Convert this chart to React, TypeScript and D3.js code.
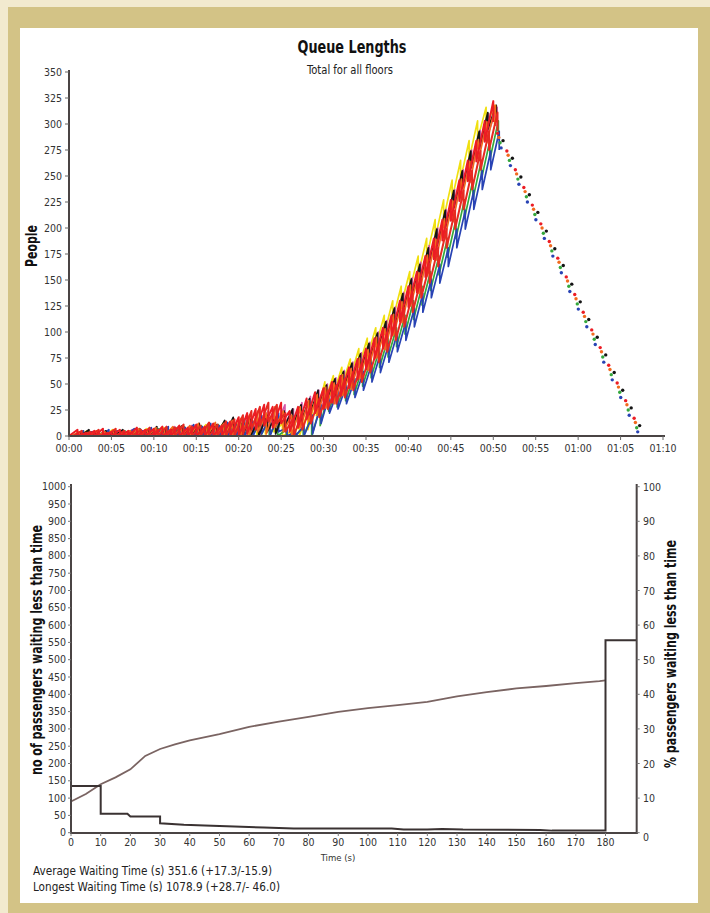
import React from "react";
import * as d3 from "d3";

// ---------- Top chart data (queue length, people, per minute 0..50) ----------
const topXTickMinutes = [0, 5, 10, 15, 20, 25, 30, 35, 40, 45, 50, 55, 60, 65, 70];
const topXTickLabels = ["00:00", "00:05", "00:10", "00:15", "00:20", "00:25", "00:30", "00:35", "00:40", "00:45", "00:50", "00:55", "01:00", "01:05", "01:10"];
const topYTicks = [0, 25, 50, 75, 100, 125, 150, 175, 200, 225, 250, 275, 300, 325, 350];

const peaksYellow = [3,2,5,4,3,6,4,5,6,7, 5,8,7,9,8,10,11,9,12,14, 15,18,16,20,22,12,4,10,24,38, 52,58,66,74,84,94,104,116,130,144, 158,173,190,208,227,246,265,284,303,316,318];
const peaksGreen = [2,3,4,3,5,4,5,6,4,6, 7,6,8,9,7,10,9,11,10,12, 13,15,14,17,16,6,2,8,18,28, 42,46,52,58,66,74,84,94,104,116, 130,144,158,173,190,208,227,246,265,284,303];
const peaksMagenta = [1,3,2,4,3,5,4,6,5,7, 6,8,9,7,10,9,12,11,13,15, 16,20,18,24,28,30,26,32,38,44, 50,56,63,71,80,90,100,111,124,138, 152,167,183,200,218,237,256,275,294,310,316];
const peaksBlue = [3,5,4,2,6,5,3,7,5,8, 6,9,7,8,11,9,12,10,13,12, 16,14,20,18,22,8,4,10,20,30, 40,44,49,55,62,70,79,89,99,110, 123,137,151,165,181,199,217,236,255,274,293];
const peaksBlack = [2,4,6,3,5,4,6,3,7,5, 9,6,8,10,7,12,9,11,15,18, 12,16,14,20,18,24,26,30,36,44, 49,55,62,70,79,89,99,110,123,137, 151,165,181,199,217,236,255,274,293,311,318];
const peaksOrange = [3,4,2,5,4,6,3,5,7,6, 8,7,9,8,10,12,10,13,12,15, 17,20,24,22,28,24,20,28,34,40, 47,51,59,65,75,83,95,103,117,129, 145,157,174,189,209,226,247,264,285,302,318];
const peaksRed2 = [2,5,4,6,3,7,5,4,6,8, 6,9,8,11,9,10,13,11,14,16, 20,24,28,32,30,22,18,24,30,36, 44,49,55,62,70,79,89,99,110,123, 137,151,165,181,199,217,236,255,274,293,311];
const peaksRed = [4,6,3,5,7,4,6,5,8,6, 7,9,6,10,8,11,9,12,10,14, 18,22,26,30,28,32,24,28,36,42, 46,52,58,66,74,84,94,104,116,130, 144,158,173,190,208,227,246,265,284,303,322];

const queueSeries = [
  { name: "yellow", color: "#f0e010", peaks: peaksYellow, pickupOffset: 0.15, capacity: 18 },
  { name: "green", color: "#34a83c", peaks: peaksGreen, pickupOffset: 0.6, capacity: 18 },
  { name: "magenta", color: "#d457a8", peaks: peaksMagenta, pickupOffset: 0.45, capacity: 18 },
  { name: "blue", color: "#2843b4", peaks: peaksBlue, pickupOffset: 0.7, capacity: 18 },
  { name: "black", color: "#141414", peaks: peaksBlack, pickupOffset: 0.35, capacity: 16 },
  { name: "orange", color: "#f26a1e", peaks: peaksOrange, pickupOffset: 0.25, capacity: 20 },
  { name: "red2", color: "#e62a22", peaks: peaksRed2, pickupOffset: 0.5, capacity: 18 },
  { name: "red", color: "#ec1c24", peaks: peaksRed, pickupOffset: 0.0, capacity: 20 },
];

// Drain phase (dots), minutes and people
const drainMinutes = [50.5, 51.6, 52.6, 53.6, 54.6, 55.6, 56.6, 57.6, 58.6, 59.6, 60.6, 61.6, 62.6, 63.6, 64.6, 65.6, 66.6];
const drainRed = [291,274,256,239,222,204,187,171,153,136,119,102,85,68,51,34,17];
const drainOrange = [287,270,252,235,218,200,183,167,149,132,115,98,81,64,47,30,13];
const drainGreen = [282,265,247,230,213,195,178,162,144,127,110,93,76,59,42,25,8];
const drainBlue = [277,260,242,225,208,190,173,157,139,122,105,88,71,54,37,20,4];
const drainBlack = [284,267,249,232,215,197,180,164,146,129,112,95,78,61,44,27,10];

const drainSeries = [
  { color: "#ec1c24", values: drainRed, dt: 0.0 },
  { color: "#f26a1e", values: drainOrange, dt: 0.15 },
  { color: "#34a83c", values: drainGreen, dt: 0.3 },
  { color: "#2843b4", values: drainBlue, dt: 0.42 },
  { color: "#141414", values: drainBlack, dt: 0.65 },
];

// ---------- Bottom chart data ----------
const botXTicks = [0, 10, 20, 30, 40, 50, 60, 70, 80, 90, 100, 110, 120, 130, 140, 150, 160, 170, 180];
const botYTicks = [0, 50, 100, 150, 200, 250, 300, 350, 400, 450, 500, 550, 600, 650, 700, 750, 800, 850, 900, 950, 1000];
const botPctTicks = [0, 10, 20, 30, 40, 50, 60, 70, 80, 90, 100];

const cumTime = [0, 5, 10, 15, 20, 25, 30, 35, 40, 50, 60, 70, 80, 90, 100, 110, 120, 130, 140, 150, 160, 170, 178, 180];
const cumPassengers = [90, 112, 140, 160, 183, 222, 242, 255, 267, 285, 306, 321, 335, 349, 360, 369, 378, 394, 406, 417, 424, 432, 438, 440];

const distTime = [0, 10, 10, 19, 20, 30, 30, 38, 45, 55, 65, 75, 100, 108, 112, 120, 125, 132, 158, 162, 180, 180, 190.5];
const distPassengers = [135, 135, 55, 55, 47, 47, 27, 23, 21, 18, 15, 12, 12, 12, 9, 9, 11, 9, 8, 6, 6, 556, 556];

const FONT = "'DejaVu Sans Condensed','Liberation Sans Narrow',Arial,sans-serif";

export default function App() {
  // top scales
  const xT = d3.scaleLinear().domain([0, 70]).range([69, 663]);
  const yT = d3.scaleLinear().domain([0, 350]).range([436, 72]);
  // bottom scales
  const xB = d3.scaleLinear().domain([0, 180]).range([71, 605.5]);
  const yB = d3.scaleLinear().domain([0, 1000]).range([832.7, 486.7]);
  const yP = d3.scaleLinear().domain([0, 100]).range([832.7, 486.7]);
  const rightAxisX = xB(190.5);

  const line = d3.line<[number, number]>().x((d) => xT(d[0])).y((d) => yT(d[1]));
  const toothPath = (peaks: number[], off: number, cap: number) => {
    const pts: [number, number][] = [[off, Math.max(0, peaks[0] - cap)]];
    for (let i = 1; i < peaks.length; i++) {
      pts.push([i + off, peaks[i]]);
      pts.push([i + off, Math.max(0, peaks[i] - cap)]);
    }
    return line(pts) || "";
  };

  const lineB = d3.line<number>().x((_, i) => xB(cumTime[i])).y((d) => yB(d));
  const lineDist = d3.line<number>().x((_, i) => xB(distTime[i])).y((d) => yB(d));

  return (
    <svg width={710} height={913} style={{ position: "absolute", left: 0, top: 0, display: "block" }} fontFamily={FONT}>
      {/* frame */}
      <rect x={0} y={0} width={710} height={913} fill="#f2eacf" />
      <rect x={8} y={7} width={702} height={906} fill="#d3c386" />
      <rect x={20} y={28} width={678} height={875} fill="#ffffff" />

      {/* ===== Top chart ===== */}
      <text x={352} y={53} textAnchor="middle" fontSize={18} fontWeight="bold" fill="#111" textLength={109} lengthAdjust="spacingAndGlyphs">Queue Lengths</text>
      <text x={350} y={74} textAnchor="middle" fontSize={12} fill="#222" textLength={86} lengthAdjust="spacingAndGlyphs">Total for all floors</text>
      <text transform="translate(37,246) rotate(-90)" textAnchor="middle" fontSize={15} fontWeight="bold" fill="#111" textLength={42} lengthAdjust="spacingAndGlyphs">People</text>

      {queueSeries.map((s) => (
        <path key={s.name} d={toothPath(s.peaks, s.pickupOffset, s.capacity)} fill="none" stroke={s.color} strokeWidth={s.name.startsWith("red") ? 2 : 1.7} strokeLinejoin="round" />
      ))}
      {drainSeries.map((s, si) =>
        s.values.map((v, i) => (
          <circle key={`${si}-${i}`} cx={xT(drainMinutes[i] + s.dt)} cy={yT(v)} r={1.7} fill={s.color} />
        ))
      )}

      {/* top axes */}
      <line x1={69} x2={69} y1={70} y2={437} stroke="#4a4444" strokeWidth={2} />
      <line x1={68} x2={665} y1={436} y2={436} stroke="#4a4444" strokeWidth={2} />
      {topYTicks.map((t) => (
        <g key={t}>
          <line x1={65} x2={69} y1={yT(t)} y2={yT(t)} stroke="#666" strokeWidth={1} />
          <text x={62} y={yT(t) + 3.5} textAnchor="end" fontSize={10.5} fill="#333">{t}</text>
        </g>
      ))}
      {topXTickMinutes.map((m, i) => (
        <g key={m}>
          <line x1={xT(m)} x2={xT(m)} y1={436} y2={440} stroke="#666" strokeWidth={1} />
          <text x={xT(m)} y={452} textAnchor="middle" fontSize={10.5} fill="#333">{topXTickLabels[i]}</text>
        </g>
      ))}

      {/* ===== Bottom chart ===== */}
      <path d={lineB(cumPassengers) || ""} fill="none" stroke="#7a6462" strokeWidth={1.8} />
      <path d={lineDist(distPassengers) || ""} fill="none" stroke="#3a3232" strokeWidth={2} />

      <line x1={71} x2={71} y1={484} y2={834} stroke="#4a4444" strokeWidth={2} />
      <line x1={rightAxisX} x2={rightAxisX} y1={484} y2={834} stroke="#4a4444" strokeWidth={2} />
      <line x1={70} x2={rightAxisX + 1} y1={833} y2={833} stroke="#4a4444" strokeWidth={2} />

      {botYTicks.map((t) => (
        <g key={t}>
          <line x1={68} x2={71} y1={yB(t)} y2={yB(t)} stroke="#777" strokeWidth={1} />
          <text x={66} y={yB(t) + 3.5} textAnchor="end" fontSize={10.5} fill="#333">{t}</text>
        </g>
      ))}
      {botPctTicks.map((t) => (
        <g key={t}>
          <line x1={rightAxisX} x2={rightAxisX + 3} y1={yP(t)} y2={yP(t)} stroke="#777" strokeWidth={1} />
          <text x={643} y={yP(t) + (t === 0 ? 8 : 4)} textAnchor="start" fontSize={10.5} fill="#333">{t}</text>
        </g>
      ))}
      {botXTicks.map((t) => (
        <g key={t}>
          <line x1={xB(t)} x2={xB(t)} y1={833} y2={836} stroke="#777" strokeWidth={1} />
          <text x={xB(t)} y={846} textAnchor="middle" fontSize={10.5} fill="#333">{t}</text>
        </g>
      ))}
      <text x={338} y={861} textAnchor="middle" fontSize={9.5} fill="#333">Time (s)</text>

      <text transform="translate(42,650) rotate(-90)" textAnchor="middle" fontSize={16} fontWeight="bold" fill="#111" textLength={250} lengthAdjust="spacingAndGlyphs">no of passengers waiting less than time</text>
      <text transform="translate(676,654) rotate(-90)" textAnchor="middle" fontSize={16} fontWeight="bold" fill="#111" textLength={228} lengthAdjust="spacingAndGlyphs">% passengers waiting less than time</text>

      <text x={33} y={875} fontSize={13} fill="#222" textLength={239} lengthAdjust="spacingAndGlyphs">Average Waiting Time (s) 351.6 (+17.3/-15.9)</text>
      <text x={33} y={891} fontSize={13} fill="#222" textLength={247} lengthAdjust="spacingAndGlyphs">Longest Waiting Time (s) 1078.9 (+28.7/- 46.0)</text>
    </svg>
  );
}
